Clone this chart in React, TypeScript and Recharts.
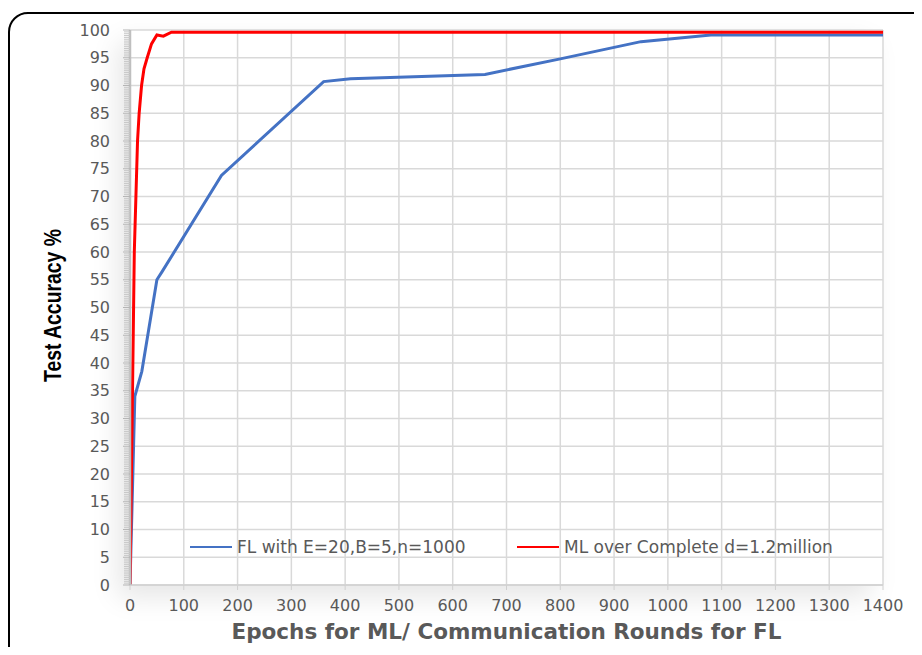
import React from 'react';
import { LineChart, Line, XAxis, YAxis, CartesianGrid, Legend, Label } from 'recharts';

// FL: communication rounds vs test accuracy
const flRounds = [0, 4, 9, 22, 50, 60, 170, 360, 410, 660, 800, 950, 1080, 1400];
const flAccuracy = [0, 15, 34, 38.5, 55, 56.5, 73.8, 90.7, 91.2, 92.0, 94.8, 97.9, 99.1, 99.1];

// ML over complete data: epochs vs test accuracy
const mlEpochs = [0, 4, 8, 9.5, 11, 12.5, 14, 17, 21.5, 26, 32, 40, 50, 62, 77, 1400];
const mlAccuracy = [0, 30, 60, 65, 70, 75, 80, 85, 90, 93, 95, 97.5, 99.1, 98.9, 99.6, 99.6];

const xTicks = [0, 100, 200, 300, 400, 500, 600, 700, 800, 900, 1000, 1100, 1200, 1300, 1400];
const yTicks = [0, 5, 10, 15, 20, 25, 30, 35, 40, 45, 50, 55, 60, 65, 70, 75, 80, 85, 90, 95, 100];
// minor tick marks every 1/3 unit on the y axis
const yMinorTicks = Array.from({ length: 301 }, (_, i) => i / 3);

const flData = flRounds.map((x, i) => ({ x, y: flAccuracy[i] }));
const mlData = mlEpochs.map((x, i) => ({ x, y: mlAccuracy[i] }));

const FONT = '"DejaVu Sans", Verdana, sans-serif';
const GREY = '#595959';

const YTick = (props: any) => {
  const { x, y, payload } = props;
  const v = payload.value;
  const isMajor = Math.abs(v / 5 - Math.round(v / 5)) < 1e-6;
  return (
    <g>
      <line x1={x - (isMajor ? 7 : 6)} x2={x} y1={y} y2={y} stroke={isMajor ? '#b5b5b5' : '#c8c8c8'} strokeWidth={1} />
      {isMajor && (
        <text x={x - 20} y={y} dy="0.355em" textAnchor="end" fill={GREY} fontSize={16} fontFamily={FONT}>
          {Math.round(v)}
        </text>
      )}
    </g>
  );
};

const LegendBox = (props: any) => {
  const items = props.payload || [];
  const lefts = [190, 517];
  return (
    <div style={{ position: 'relative', width: 922, height: 24 }}>
      {items.map((it: any, i: number) => (
        <div
          key={it.value}
          style={{ position: 'absolute', left: lefts[i], top: 0, display: 'flex', alignItems: 'center', height: 24 }}
        >
          <span style={{ display: 'inline-block', width: 42, height: 0, borderTop: `2px solid ${it.color}` }} />
          <span style={{ marginLeft: 5, fontFamily: FONT, fontSize: 17, color: GREY, whiteSpace: 'nowrap' }}>{it.value}</span>
        </div>
      ))}
    </div>
  );
};

export default function App() {
  return (
    <div style={{ position: 'relative', width: 922, height: 655, margin: -8, overflow: 'hidden', background: '#fff' }}>
      <div
        style={{
          position: 'absolute', left: 8, top: 12, width: 960, height: 700,
          border: '2px solid #000', borderRadius: 20, boxSizing: 'border-box',
        }}
      />
      <div
        style={{
          position: 'absolute', left: 130, top: 30, width: 753, height: 555,
          background: '#fff', boxShadow: '-12px 12px 26px rgba(0,0,0,0.10)',
        }}
      />
      <div style={{ position: 'absolute', left: 0, top: 0 }}>
        <LineChart width={922} height={655} margin={{ top: 30, right: 39, left: 0, bottom: 0 }}>
          <CartesianGrid
            stroke="#d9d9d9"
            strokeWidth={1.5}
            horizontalCoordinatesGenerator={({ yAxis, offset }: any) =>
              yTicks.map((v) =>
                yAxis && typeof yAxis.scale === 'function'
                  ? yAxis.scale(v)
                  : offset.top + offset.height * (1 - v / 100)
              )
            }
          />
          <XAxis
            type="number"
            dataKey="x"
            domain={[0, 1400]}
            ticks={xTicks}
            interval={0}
            height={70}
            tickSize={5}
            tickMargin={10}
            axisLine={{ stroke: '#d0d0d0', strokeWidth: 1.5 }}
            tickLine={{ stroke: '#d0d0d0' }}
            tick={{ fill: GREY, fontSize: 16, fontFamily: FONT }}
            allowDataOverflow
          >
            <Label
              content={(p: any) => {
                const vb = p.viewBox;
                return (
                  <text x={vb.x + vb.width / 2} y={vb.y + 54} textAnchor="middle" fill={GREY}
                    textLength={550} lengthAdjust="spacingAndGlyphs"
                    style={{ fontFamily: FONT, fontSize: 21, fontWeight: 'bold' }}>
                    Epochs for ML/ Communication Rounds for FL
                  </text>
                );
              }}
            />
          </XAxis>
          <YAxis
            type="number"
            width={130}
            domain={[0, 100]}
            ticks={yMinorTicks}
            interval={0}
            tickSize={0}
            tickMargin={0}
            tickLine={false}
            axisLine={{ stroke: '#bfbfbf', strokeWidth: 2.5 }}
            tick={<YTick />}
          >
            <Label
              content={(p: any) => {
                const vb = p.viewBox;
                const cx = vb.x + 53;
                const cy = vb.y + vb.height / 2 - 2;
                return (
                  <text x={cx} y={cy} textAnchor="middle" dominantBaseline="central" fill="#000"
                    transform={`rotate(-90 ${cx} ${cy})`}
                    textLength={153} lengthAdjust="spacingAndGlyphs"
                    style={{ fontFamily: '"Liberation Sans Narrow", "Liberation Sans", sans-serif', fontSize: 23, fontWeight: 'bold' }}>
                    Test Accuracy %
                  </text>
                );
              }}
            />
          </YAxis>
          <Legend
            layout="horizontal"
            verticalAlign="middle"
            align="center"
            wrapperStyle={{ left: 0, top: 535, width: 922 }}
            content={<LegendBox />}
          />
          <Line
            data={flData}
            dataKey="y"
            name="FL with E=20,B=5,n=1000"
            type="linear"
            stroke="#4472C4"
            strokeWidth={3}
            dot={false}
            isAnimationActive={false}
          />
          <Line
            data={mlData}
            dataKey="y"
            name="ML over Complete d=1.2million"
            type="linear"
            stroke="#FF0000"
            strokeWidth={3}
            dot={false}
            isAnimationActive={false}
          />
        </LineChart>
      </div>
    </div>
  );
}
